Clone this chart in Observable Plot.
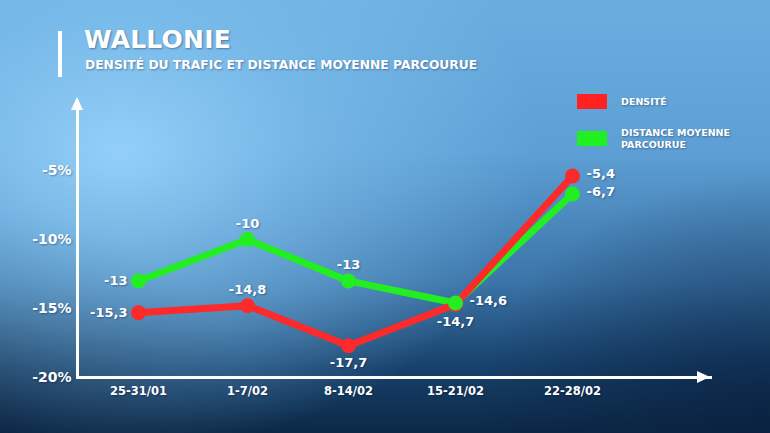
<!DOCTYPE html>
<html><head><meta charset="utf-8">
<script src="https://cdn.jsdelivr.net/npm/d3@7"></script>
<script src="https://cdn.jsdelivr.net/npm/@observablehq/plot@0.6"></script>
<style>
html,body{margin:0;padding:0;}
body{width:770px;height:433px;overflow:hidden;position:relative;font-family:"DejaVu Sans",sans-serif;
 background:
  radial-gradient(ellipse 420px 300px at 120px 150px, rgba(150,210,250,0.95) 0%, rgba(130,195,240,0.6) 45%, rgba(100,170,225,0) 100%),
  radial-gradient(ellipse 260px 220px at 0px 433px, rgba(10,35,65,0.85) 0%, rgba(10,35,65,0) 100%),
  radial-gradient(ellipse 300px 260px at 770px 433px, rgba(8,30,60,0.7) 0%, rgba(8,30,60,0) 100%),
  linear-gradient(180deg, #6aaee0 0%, #5d9fd4 35%, #3b74a8 65%, #17416b 85%, #0c2846 100%);}
#bar{position:absolute;left:58px;top:31px;width:4px;height:46px;background:#fff;}
#title{position:absolute;left:84px;top:25px;color:#fff;font-weight:bold;font-size:25px;letter-spacing:0.2px;text-shadow:1px 1px 2px rgba(0,0,40,0.35);}
#sub{position:absolute;left:85px;top:58px;color:#fff;font-weight:bold;font-size:12.3px;text-shadow:1px 1px 2px rgba(0,0,40,0.35);white-space:nowrap;}
.lg{position:absolute;left:577px;width:30px;height:15px;}
.lt{position:absolute;left:621px;color:#fff;font-weight:bold;font-size:9.5px;line-height:12px;text-shadow:1px 1px 2px rgba(0,0,40,0.35);}
#plot{position:absolute;left:0;top:0;}
</style></head>
<body>
<div id="bar"></div>
<div id="title">WALLONIE</div>
<div id="sub">DENSITÉ DU TRAFIC ET DISTANCE MOYENNE PARCOURUE</div>
<div class="lg" style="top:94px;background:#ff2020"></div>
<div class="lt" style="top:96px">DENSITÉ</div>
<div class="lg" style="top:131px;background:#20f020"></div>
<div class="lt" style="top:127px">DISTANCE MOYENNE<br>PARCOURUE</div>
<div id="plot"></div>
<script>
const weeks = ["25-31/01", "1-7/02", "8-14/02", "15-21/02", "22-28/02"];
const densite = [-15.3, -14.8, -17.7, -14.7, -5.4];
const distance = [-13, -10, -13, -14.6, -6.7];
const yTicks = [-5, -10, -15, -20];

const RED = "#fc2a2a", GREEN = "#22ee22";
const fmt = v => String(v).replace(".", ",");
const mk = (vals, series) => vals.map((v, i) => ({i, v, series}));
const dRed = mk(densite, "d"), dGreen = mk(distance, "g");
// label placement per point (layout only)
const placeRed = ["left", "above", "below", "below", "right"];
const placeGreen = ["left", "above", "above", "right", "right"];
const off = {left: {dx: -11, dy: 0, anchor: "end"}, right: {dx: 14, dy: -2, anchor: "start"},
             above: {dx: 0, dy: -16, anchor: "middle"}, below: {dx: 0, dy: 17, anchor: "middle"}};
function labels(data, place) {
  return Object.keys(off).map(k => Plot.text(data.filter(d => place[d.i] === k), {
    x: "i", y: "v", text: d => fmt(d.v), dx: off[k].dx, dy: off[k].dy, textAnchor: off[k].anchor,
    fill: "white", fontSize: 13, fontWeight: "bold"
  }));
}
function arrows(index, scales, values, dim) {
  const g = d3.create("svg:g").attr("fill", "white");
  const x0 = dim.marginLeft, y0 = dim.height - dim.marginBottom, yT = dim.marginTop, xR = dim.width - dim.marginRight;
  g.append("path").attr("d", `M${x0},${yT - 4}L${x0 - 6},${yT + 9}L${x0 + 6},${yT + 9}Z`);
  g.append("path").attr("d", `M${xR},${y0}L${xR - 13},${y0 - 6}L${xR - 13},${y0 + 6}Z`);
  return g.node();
}
const chart = Plot.plot({
  width: 770, height: 433,
  marginLeft: 77, marginRight: 60, marginTop: 101, marginBottom: 56,
  style: {background: "transparent", color: "white", fontFamily: "DejaVu Sans, sans-serif", overflow: "visible"},
  // piecewise x follows the uneven spacing of the original graphic
  x: {type: "linear", domain: [-0.56, 0, 1, 2, 3, 4, 5.2], range: [77, 138, 247, 348, 455, 572, 710]},
  y: {domain: [-20, 0]},
  marks: [
    Plot.axisY({ticks: yTicks, tickFormat: d => d + "%", tickSize: 0, tickPadding: 6, fontSize: 14, fontWeight: "bold", fill: "white", label: null}),
    Plot.axisX({ticks: [0, 1, 2, 3, 4], tickFormat: i => weeks[i], tickSize: 0, tickPadding: 9, fontSize: 11.5, fontWeight: "bold", fill: "white", label: null}),
    Plot.frame({anchor: "left", stroke: "white", strokeWidth: 3}),
    Plot.frame({anchor: "bottom", stroke: "white", strokeWidth: 3}),
    arrows,
    Plot.line(dGreen, {x: "i", y: "v", stroke: GREEN, strokeWidth: 7}),
    Plot.line(dRed, {x: "i", y: "v", stroke: RED, strokeWidth: 7}),
    Plot.dot(dRed, {x: "i", y: "v", fill: RED, r: 7.5}),
    Plot.dot(dGreen, {x: "i", y: "v", fill: GREEN, r: 7.5}),
    ...labels(dRed, placeRed),
    ...labels(dGreen, placeGreen)
  ]
});
d3.select(chart).selectAll("text").style("text-shadow", "1px 1px 2px rgba(0,0,40,0.35)");
document.getElementById("plot").appendChild(chart);
</script>
</body></html>
